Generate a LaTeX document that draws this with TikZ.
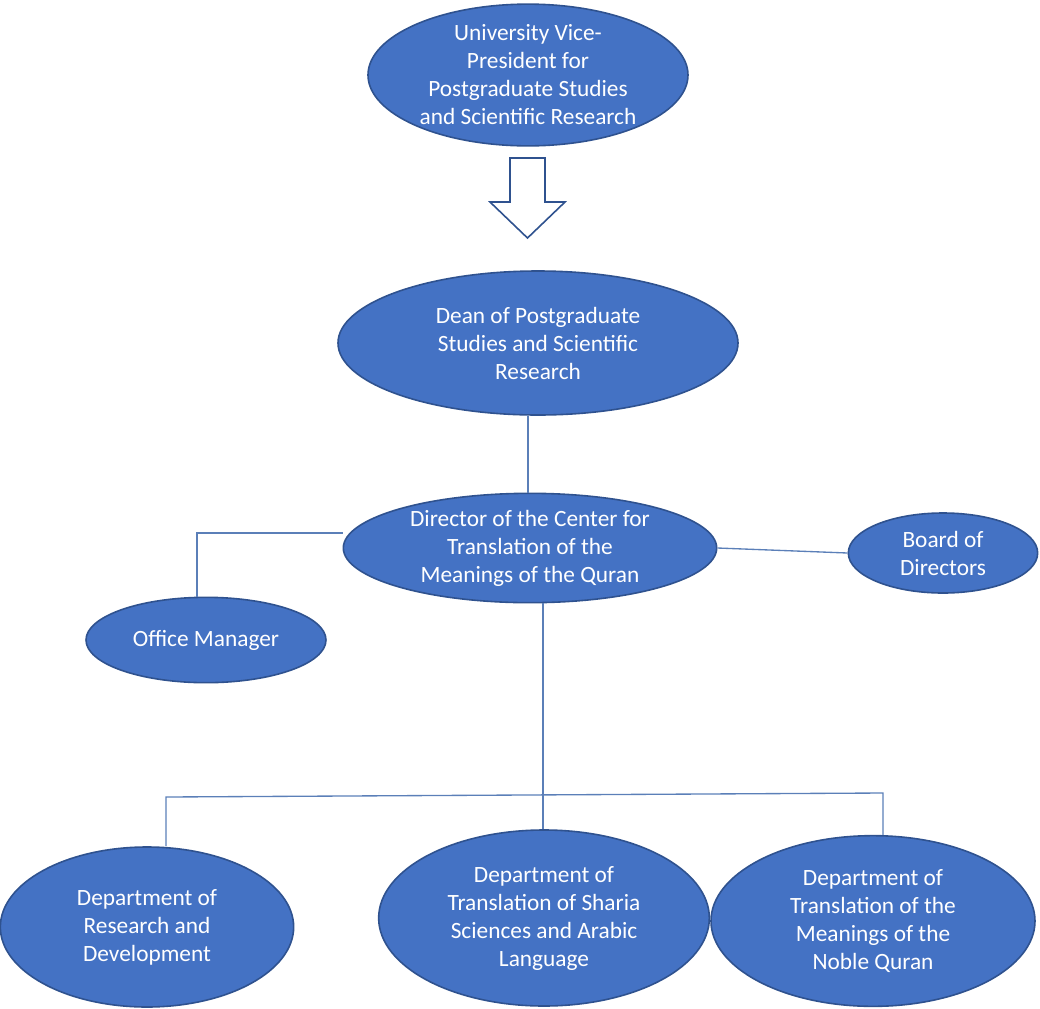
\documentclass[tikz,border=0pt]{standalone}
\usepackage{fontspec}
\setmainfont{Carlito}
\usetikzlibrary{shapes.geometric}
\definecolor{unitfill}{HTML}{4472C4}
\definecolor{unitline}{HTML}{2F528F}
\definecolor{linkline}{HTML}{5B7FB8}
\tikzset{
  unit/.style={ellipse,draw=unitline,line width=1.2pt,fill=unitfill,text=white,
    align=center,inner sep=0pt,font=\fontsize{17.5}{21}\selectfont},
  link/.style={draw=linkline,line width=1pt}
}
\begin{document}
\begin{tikzpicture}[x=0.75pt,y=0.75pt,yscale=-1,xscale=1]
\useasboundingbox (0,0) rectangle (1040,1008);

% Top levels
\node[unit,minimum width=240pt,minimum height=105pt] (vp) at (528,75) {University Vice-\\President for\\Postgraduate Studies\\and Scientific Research};
\node[unit,minimum width=300pt,minimum height=108pt] (dean) at (538,343) {Dean of Postgraduate\\Studies and Scientific\\Research};

%Shape: hollow arrow
\draw[draw=unitline,line width=1.2pt,fill=white] (510,158) -- (545,158) -- (545,202) -- (565,202) -- (527.5,238) -- (490,202) -- (510,202) -- cycle;

% Center
\node[unit,minimum width=280pt,minimum height=82pt] (dir) at (530,548) {Director of the Center for\\Translation of the\\Meanings of the Quran};
\node[unit,minimum width=142pt,minimum height=60pt] (board) at (943,553) {Board of\\Directors};
\node[unit,minimum width=180pt,minimum height=64pt] (office) at (206,640) {Office Manager};

% Departments
\node[unit,minimum width=220pt,minimum height=120pt] (rnd) at (147,927) {Department of\\Research and\\Development};
\node[unit,minimum width=248pt,minimum height=132pt] (sharia) at (544,918) {Department of\\Translation of Sharia\\Sciences and Arabic\\Language};
\node[unit,minimum width=243pt,minimum height=128pt] (quran) at (873,921) {Department of\\Translation of the\\Meanings of the\\Noble Quran};

% Links
\draw[link] (dean.south -| 528,0) -- (dir.north -| 528,0);
\draw[link] (dir.west |- 0,533) -- (197,533) -- (office.north -| 197,0);
\draw[link] (dir.east) -- (board.west);
\draw[link] (dir.south -| 543,0) -- (sharia.north -| 543,0);
\draw[link] (rnd.north -| 166,0) -- (166,797) -- (883,793) -- (quran.north -| 883,0);
\end{tikzpicture}
\end{document}
